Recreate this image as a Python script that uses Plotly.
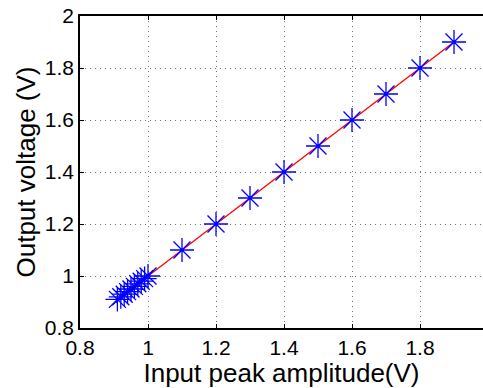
import plotly.graph_objects as go

# Measured input peak amplitude and resulting output voltage
input_amp = [0.91, 0.92, 0.93, 0.94, 0.95, 0.96, 0.97, 0.98, 0.99, 1.0,
             1.1, 1.2, 1.3, 1.4, 1.5, 1.6, 1.7, 1.8, 1.9]
output_v = [0.91, 0.92, 0.93, 0.94, 0.95, 0.96, 0.97, 0.98, 0.99, 1.0,
            1.1, 1.2, 1.3, 1.4, 1.5, 1.6, 1.7, 1.8, 1.9]

x_ticks = [0.8, 1, 1.2, 1.4, 1.6, 1.8]
x_tick_text = ["0.8", "1", "1.2", "1.4", "1.6", "1.8"]
y_ticks = [0.8, 1, 1.2, 1.4, 1.6, 1.8, 2]
y_tick_text = ["0.8", "1", "1.2", "1.4", "1.6", "1.8", "2"]

fig = go.Figure()
fig.add_trace(go.Scatter(
    x=input_amp, y=output_v, mode="lines",
    line=dict(color="#ff0000", width=1.3), showlegend=False,
))
fig.add_trace(go.Scatter(
    x=input_amp, y=output_v, mode="markers",
    marker=dict(symbol="asterisk-open", size=20, color="#0000ff",
                line=dict(color="#0000ff", width=1.3)),
    showlegend=False,
))

font = "Liberation Sans, Arial, sans-serif"
axis_common = dict(
    showgrid=True, gridcolor="#707070", griddash="1px,4px", gridwidth=1,
    zeroline=False, showline=True, linecolor="#000000", linewidth=1.5,
    ticks="inside", ticklen=4, tickcolor="#000000",
    tickfont=dict(family=font, size=21, color="#000000"),
)

fig.update_layout(
    width=483, height=388,
    margin=dict(l=80, r=0, t=16, b=60),
    paper_bgcolor="white", plot_bgcolor="white",
    xaxis=dict(
        range=[0.8, 0.8 + 403 / 340], tickvals=x_ticks, ticktext=x_tick_text,
        mirror="ticks",
        title=dict(text="Input peak amplitude(V)",
                   font=dict(family=font, size=26, color="#000000"), standoff=4),
        **axis_common,
    ),
    yaxis=dict(
        range=[0.8, 2.0], tickvals=y_ticks, ticktext=y_tick_text,
        title=dict(text="Output voltage (V)",
                   font=dict(family=font, size=26, color="#000000"), standoff=2),
        **axis_common,
    ),
)

fig.write_html("out.html")
